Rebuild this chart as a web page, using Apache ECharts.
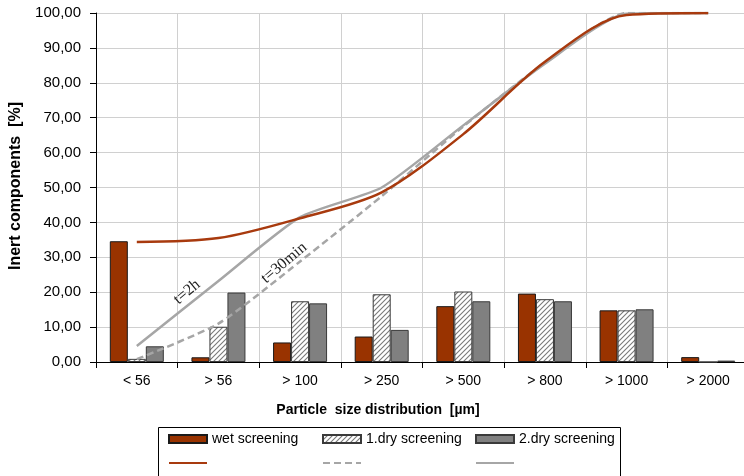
<!DOCTYPE html>
<html><head><meta charset="utf-8">
<script src="https://cdn.jsdelivr.net/npm/echarts@6/dist/echarts.min.js"></script>
<style>html,body{margin:0;padding:0;background:#fff}#c{width:744px;height:476px}</style>
</head><body><div id="c"></div>
<script>
var categories = ['< 56', '> 56', '> 100', '> 250', '> 500', '> 800', '> 1000', '> 2000'];
var wetBars = [34.6, 1.35, 5.6, 7.3, 16.0, 19.6, 14.8, 1.4];
var dry1Bars = [0.9, 10.1, 17.4, 19.4, 20.2, 18.0, 14.8, 0];
var dry2Bars = [4.5, 19.9, 16.8, 9.2, 17.4, 17.4, 15.1, 0.4];
var wetLine = [34.4, 35.5, 41.2, 48.6, 65.3, 86.0, 99.4, 100];
var dry1Line = [0.8, 11.0, 28.8, 47.5, 67.5, 85.8, 100, 100];
var dry2Line = [4.6, 23.2, 41.5, 50.0, 67.8, 85.5, 99.8, 100];
var yTicks = [0, 10, 20, 30, 40, 50, 60, 70, 80, 90, 100];

function hatch() {
  var s = 5, c = document.createElement('canvas');
  c.width = s; c.height = s;
  var g = c.getContext('2d');
  g.fillStyle = '#fff'; g.fillRect(0, 0, s, s);
  g.strokeStyle = '#7a7a7a'; g.lineWidth = 1.1;
  g.beginPath();
  g.moveTo(-1, s + 1); g.lineTo(s + 1, -1);
  g.moveTo(-1, 1); g.lineTo(1, -1);
  g.moveTo(s - 1, s + 1); g.lineTo(s + 1, s - 1);
  g.stroke();
  return {image: c, repeat: 'repeat'};
}
var FONT = 'Liberation Sans';
var chart = echarts.init(document.getElementById('c'));
var legendCommon = {
  orient: 'vertical', top: 432, itemWidth: 38, itemHeight: 8, itemGap: 13, padding: 0,
  textStyle: {fontSize: 14, color: '#000', fontFamily: FONT},
  selectedMode: false
};
function lg(left, bar, line) {
  return Object.assign({}, legendCommon, {
    left: left,
    data: [{name: bar, icon: 'rect'},
           {name: line, itemStyle: {opacity: 0, color: 'rgba(0,0,0,0)', borderWidth: 0}}],
    formatter: function (n) { return n === bar ? n : ''; }
  });
}
chart.setOption({
  animation: false,
  grid: {left: 96, top: 13, right: -5, bottom: 114, outerBoundsMode: 'none', containLabel: false},
  legend: [
    lg(168, 'wet screening', 'wet cum'),
    lg(322, '1.dry screening', 'dry1 cum'),
    lg(475, '2.dry screening', 'dry2 cum')
  ],
  xAxis: {
    type: 'category', data: categories, boundaryGap: true,
    axisLine: {lineStyle: {color: '#000', width: 1}},
    axisTick: {show: true, length: 6, lineStyle: {color: '#000'}, interval: 0},
    axisLabel: {fontSize: 14, color: '#000', fontFamily: FONT, margin: 12, interval: 0},
    splitLine: {show: true, interval: 0, lineStyle: {color: '#d0d0d0', width: 1}}
  },
  yAxis: {
    type: 'value', min: 0, max: 100, interval: 10,
    axisLine: {show: true, lineStyle: {color: '#000', width: 1}},
    axisTick: {show: true, length: 6, inside: false, lineStyle: {color: '#000'}},
    axisLabel: {fontSize: 15, color: '#000', fontFamily: FONT, margin: 15,
      formatter: function (v) { return v.toFixed(2).replace('.', ','); }},
    splitLine: {show: true, lineStyle: {color: '#d0d0d0', width: 1}}
  },
  graphic: [
    {type: 'text', x: 378, y: 410, style: {text: 'Particle  size distribution  [µm]', font: 'bold 14px "Liberation Sans"', fill: '#000', align: 'center', verticalAlign: 'middle'}},
    {type: 'text', x: 16, y: 186, rotation: Math.PI / 2, style: {text: 'Inert components  [%]', font: 'bold 16px "Liberation Sans"', fill: '#000', align: 'center', verticalAlign: 'middle'}},
    {type: 'text', x: 187, y: 292, rotation: 0.70, z: 100, style: {text: 't=2h', font: '16px "Liberation Serif"', fill: '#222', align: 'center', verticalAlign: 'middle'}},
    {type: 'text', x: 284, y: 263, rotation: 0.70, z: 100, style: {text: 't=30min', font: '16px "Liberation Serif"', fill: '#222', align: 'center', verticalAlign: 'middle'}},
    {type: 'rect', shape: {x: 158.5, y: 427.5, width: 462, height: 60}, style: {fill: 'none', stroke: '#000', lineWidth: 1}}
  ],
  series: [
    {name: 'wet screening', type: 'bar', data: wetBars, barWidth: 18, barGap: '0%',
      itemStyle: {color: '#993300', borderColor: '#1a1a1a', borderWidth: 1}},
    {name: '1.dry screening', type: 'bar', data: dry1Bars, barWidth: 18, barGap: '0%',
      itemStyle: {color: hatch(), borderColor: '#3a3a3a', borderWidth: 1}},
    {name: '2.dry screening', type: 'bar', data: dry2Bars, barWidth: 18, barGap: '0%',
      itemStyle: {color: '#808080', borderColor: '#3a3a3a', borderWidth: 1}},
    {name: 'wet cum', type: 'line', data: wetLine, smooth: 0.3, symbol: 'none',
      lineStyle: {color: '#a83a0e', width: 2.5}, itemStyle: {color: '#a83a0e'}, z: 5},
    {name: 'dry1 cum', type: 'line', data: dry1Line, smooth: 0.2, symbol: 'none',
      lineStyle: {color: '#a6a6a6', width: 2.5, type: [7, 4]}, itemStyle: {color: '#a6a6a6'}, z: 4},
    {name: 'dry2 cum', type: 'line', data: dry2Line, smooth: 0.2, symbol: 'none',
      lineStyle: {color: '#a6a6a6', width: 2.5}, itemStyle: {color: '#a6a6a6'}, z: 4}
  ]
});
</script></body></html>
